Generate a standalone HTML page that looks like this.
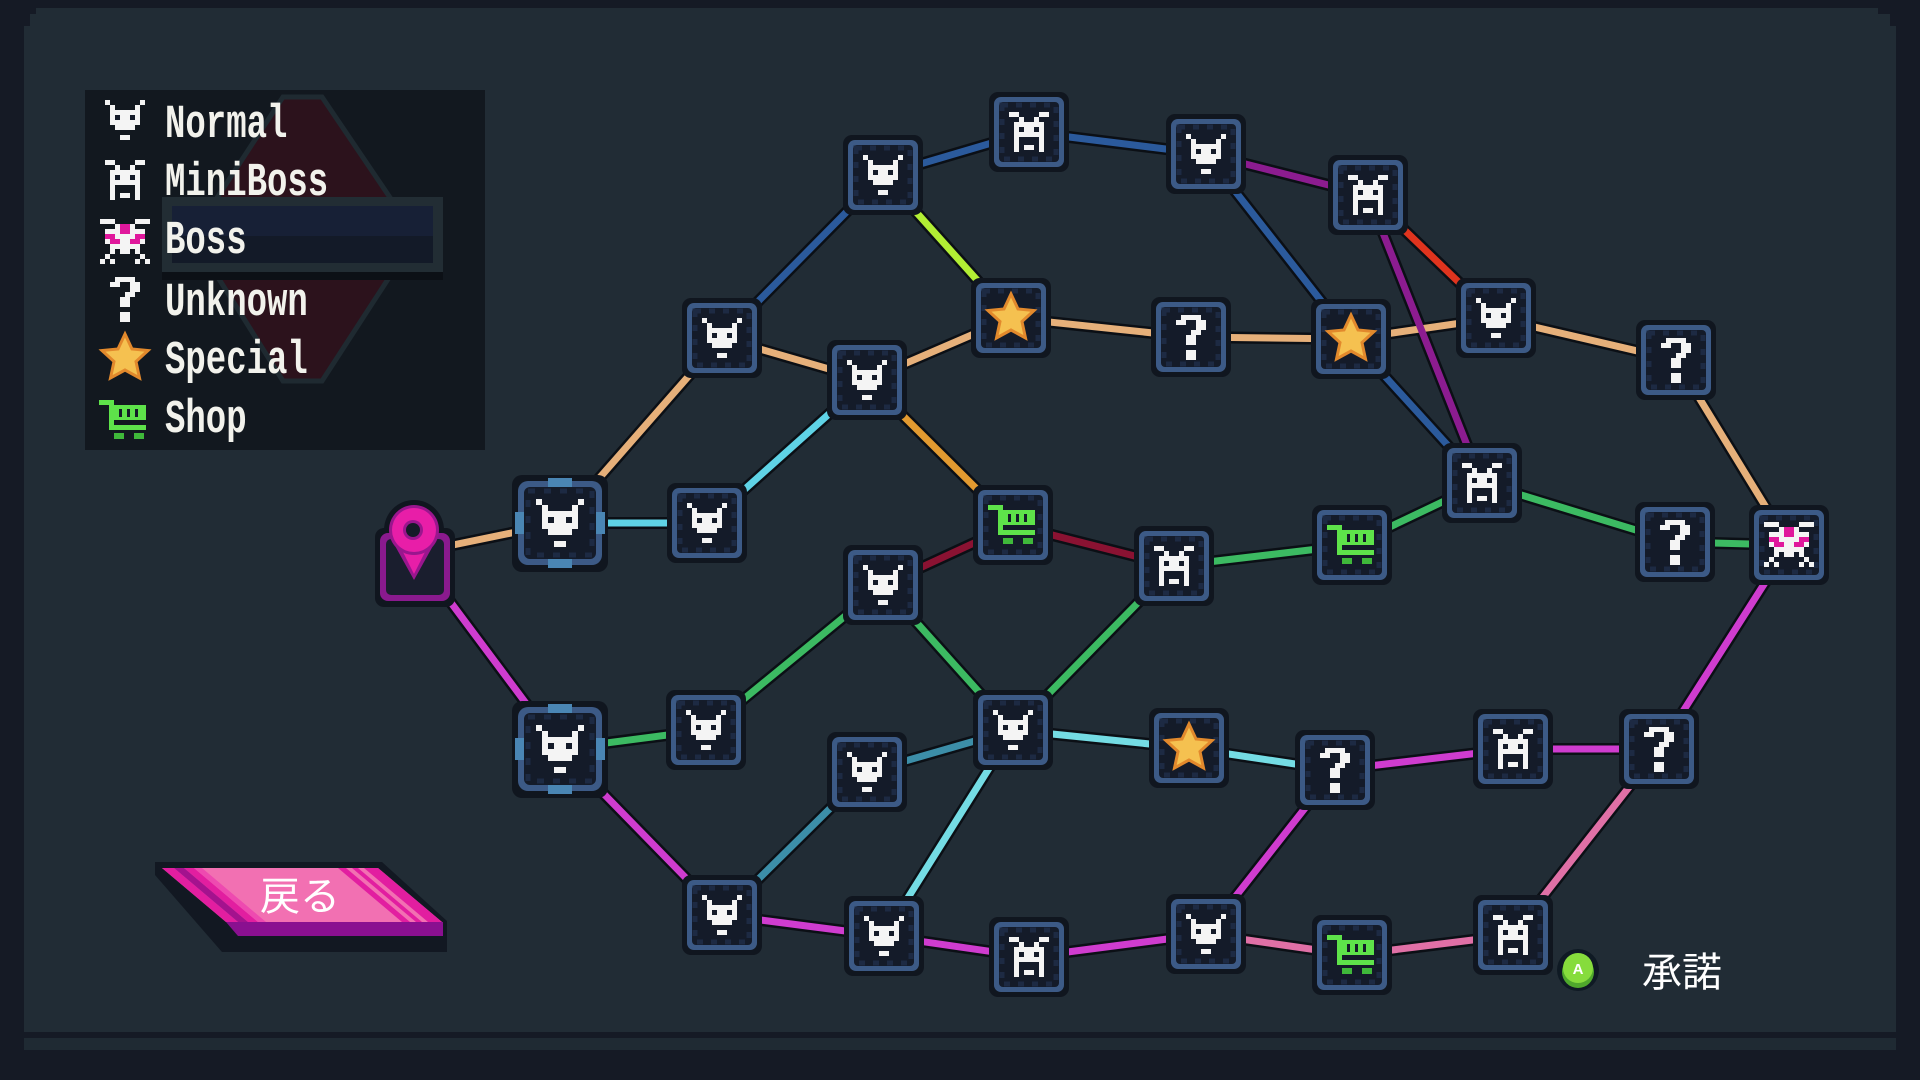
<!DOCTYPE html>
<html><head><meta charset="utf-8">
<style>
html,body{margin:0;padding:0;background:#151a25;width:1920px;height:1080px;overflow:hidden}
svg{display:block}
.lg{font-family:"Liberation Mono",monospace;font-weight:bold;font-size:34px;fill:#f2f2ec}
.jp{font-family:"Liberation Sans","Noto Sans CJK JP",sans-serif;fill:#ffffff}
</style></head>
<body>
<svg width="1920" height="1080" viewBox="0 0 1920 1080" xmlns="http://www.w3.org/2000/svg">
<defs>
 <g id="fr">
  <rect x="-40" y="-40" width="80" height="80" rx="9" fill="#10161f"/>
  <rect x="-35" y="-35" width="70" height="70" rx="7" fill="#3c5a86"/>
  <rect x="-30" y="-30" width="60" height="60" rx="4" fill="#141b29"/>
  <rect x="-27" y="-27" width="54" height="54" fill="none" stroke="#1d2a43" stroke-width="5" stroke-dasharray="6 8"/>
 </g>
 <g id="bfr">
  <rect x="-48" y="-48" width="96" height="97" rx="10" fill="#10161f"/>
  <rect x="-42" y="-42" width="84" height="84" rx="10" fill="#3c5a86"/>
  <rect x="-36" y="-36" width="72" height="72" rx="6" fill="#141b29"/>
  <rect x="-32" y="-32" width="64" height="64" fill="none" stroke="#1d2a43" stroke-width="5" stroke-dasharray="7 9"/>
  <path d="M-12 -45h24v9h-24z M-12 36h24v9h-24z M-45 -11h9v22h-9z M36 -11h9v22h-9z" fill="#4a86b4"/>
 </g>
 <g id="icn">
  <path fill="#f4f4f4" d="M-20 -20h5v5h-5z M15 -20h5v5h-5z M-15 -15h5v5h-5z M10 -15h5v5h-5z M-15 -10h30v15h-30z M-10 5h20v5h-20z M-5 15h10v5h-10z"/>
  <path fill="#141b29" d="M-10 -5h5v5h-5z M5 -5h5v5h-5z"/>
 </g>
 <g id="icm">
  <path fill="#f4f4f4" d="M-20 -20h10v5h-10z M10 -20h10v5h-10z M-10 -15h5v5h-5z M5 -15h5v5h-5z M-15 -10h30v15h-30z M-15 5h5v15h-5z M10 5h5v15h-5z M-5 13h10v5h-10z"/>
  <path fill="#141b29" d="M-10 -5h5v5h-5z M5 -5h5v5h-5z"/>
 </g>
 <g id="icb">
  <path fill="#f4f4f4" d="M-25 -23h15v5h-15z M10 -23h15v5h-15z M-10 -18h5v5h-5z M5 -18h5v5h-5z M-20 -13h40v5h-40z M-10 -8h20v5h-20z M-20 -3h5v5h-5z M-5 -3h10v5h-10z M15 -3h5v5h-5z M-15 2h30v5h-30z M-15 7h5v5h-5z M-5 7h10v5h-10z M10 7h5v5h-5z M-20 12h5v5h-5z M15 12h5v5h-5z M-25 17h5v5h-5z M-15 17h5v5h-5z M10 17h5v5h-5z M20 17h5v5h-5z"/>
  <path fill="#e0189c" d="M-5 -18h10v10h-10z M-20 -8h10v5h-10z M10 -8h10v5h-10z M-15 -3h10v5h-10z M5 -3h10v5h-10z"/>
 </g>
 <path id="icu" fill="#f4f4f4" d="M-10 -22h20v5h-20z M-15 -17h10v5h-10z M5 -17h10v10h-10z M0 -7h10v5h-10z M-5 -2h10v10h-10z M-5 13h10v10h-10z"/>
 <polygon id="ics" points="0,-24 7,-9 23,-7.5 11,3.5 14.5,20 0,12 -14.5,20 -11,3.5 -23,-7.5 -7,-9" fill="#f5c150" stroke="#e2892c" stroke-width="3"/>
 <g id="ich">
  <path fill="#5ee24a" d="M-25 -20h15v5h-15z M-15 -15h5v25h-5z M-10 -15h32v15h-32z M-15 5h37v5h-37z"/>
  <path fill="#141b29" d="M-5 -11h3v8h-3z M3 -11h3v8h-3z M11 -11h3v8h-3z"/>
  <path fill="#3fb83a" d="M-10 13h10v6h-10z M10 13h10v6h-10z"/>
 </g>
</defs>

<polygon points="36,8 1878,8 1878,14 1890,14 1890,26 1896,26 1896,1032 24,1032 24,26 30,26 30,14 36,14" fill="#212c35"/>
<rect x="24" y="1038" width="1872" height="12" fill="#1f2a33"/>

<rect x="85" y="90" width="400" height="360" fill="#12181f"/>
<polygon points="283,97 322,97 416,236 322,381 283,381 192,236" fill="#2c121c" stroke="#1f2a31" stroke-width="5"/>
<rect x="162" y="272" width="281" height="8" fill="#0c1016"/>
<rect x="162" y="197" width="281" height="75" fill="#222d34"/>
<rect x="172" y="206" width="261" height="57" fill="#131a28"/>
<rect x="172" y="206" width="261" height="30" fill="#172036"/>

<use href="#icn" x="125" y="120"/>
<use href="#icm" x="125" y="180"/>
<use href="#icb" x="125" y="242"/>
<use href="#icu" x="125" y="299"/>
<use href="#ics" x="125" y="358"/>
<use href="#ich" x="124" y="420"/>
<text class="lg" transform="translate(165,137) scale(1,1.4)">Normal</text>
<text class="lg" transform="translate(165,195) scale(1,1.4)">MiniBoss</text>
<text class="lg" transform="translate(165,253) scale(1,1.4)">Boss</text>
<text class="lg" transform="translate(165,315) scale(1,1.4)">Unknown</text>
<text class="lg" transform="translate(165,373) scale(1,1.4)">Special</text>
<text class="lg" transform="translate(165,432) scale(1,1.4)">Shop</text>

<path fill="none" stroke="#0b0f15" stroke-width="12" d="M414 553L560 523M560 523L722 338M722 338L867 380M867 380L1011 318M1011 318L1191 337M1191 337L1351 339M1351 339L1496 318M1496 318L1676 360M1676 360L1789 545M414 553L560 749M1789 545L1659 749M560 749L722 915M722 915L884 936M1335 770L1513 749M1513 749L1659 749M1335 770L1206 934M884 936L1029 957M1029 957L1206 934M560 523L707 523M707 523L867 380M722 338L883 175M883 175L1029 132M1029 132L1206 154M1206 154L1351 339M1351 339L1482 483M883 175L1011 318M867 380L1013 525M1206 154L1368 195M1368 195L1482 483M1368 195L1496 318M1013 525L883 585M1013 525L1174 566M1174 566L1352 545M1352 545L1482 483M1482 483L1675 542M1675 542L1789 545M560 749L706 730M706 730L883 585M883 585L1013 730M1013 730L1174 566M722 915L867 772M867 772L1013 730M884 936L1013 730M1013 730L1189 748M1189 748L1335 770M1206 934L1352 955M1352 955L1513 935M1513 935L1659 749"/>
<g fill="none" stroke-width="7">
<path stroke="#e6b07a" d="M414 553L560 523M560 523L722 338M722 338L867 380M867 380L1011 318M1011 318L1191 337M1191 337L1351 339M1351 339L1496 318M1496 318L1676 360M1676 360L1789 545"/>
<path stroke="#cf3ccf" d="M414 553L560 749M1789 545L1659 749M560 749L722 915M722 915L884 936M1335 770L1513 749M1513 749L1659 749M1335 770L1206 934M884 936L1029 957M1029 957L1206 934"/>
<path stroke="#5fd3e6" d="M560 523L707 523M707 523L867 380"/>
<path stroke="#2b5a9c" d="M722 338L883 175M883 175L1029 132M1029 132L1206 154M1206 154L1351 339M1351 339L1482 483"/>
<path stroke="#b2ee34" d="M883 175L1011 318"/>
<path stroke="#e29a30" d="M867 380L1013 525"/>
<path stroke="#8c1c90" d="M1206 154L1368 195M1368 195L1482 483"/>
<path stroke="#e0341e" d="M1368 195L1496 318"/>
<path stroke="#8a1232" d="M1013 525L883 585M1013 525L1174 566"/>
<path stroke="#3cba62" d="M1174 566L1352 545M1352 545L1482 483M1482 483L1675 542M1675 542L1789 545M560 749L706 730M706 730L883 585M883 585L1013 730M1013 730L1174 566"/>
<path stroke="#3c8ea8" d="M722 915L867 772M867 772L1013 730"/>
<path stroke="#74dce4" d="M884 936L1013 730M1013 730L1189 748M1189 748L1335 770"/>
<path stroke="#e070a6" d="M1206 934L1352 955M1352 955L1513 935M1513 935L1659 749"/>
</g>

<use href="#fr" x="883" y="175"/><use href="#icn" x="883" y="175"/>
<use href="#fr" x="1029" y="132"/><use href="#icm" x="1029" y="132"/>
<use href="#fr" x="1206" y="154"/><use href="#icn" x="1206" y="154"/>
<use href="#fr" x="1368" y="195"/><use href="#icm" x="1368" y="195"/>
<use href="#fr" x="722" y="338"/><use href="#icn" x="722" y="338"/>
<use href="#fr" x="867" y="380"/><use href="#icn" x="867" y="380"/>
<use href="#fr" x="1011" y="318"/><use href="#ics" x="1011" y="318"/>
<use href="#fr" x="1191" y="337"/><use href="#icu" x="1191" y="337"/>
<use href="#fr" x="1351" y="339"/><use href="#ics" x="1351" y="339"/>
<use href="#fr" x="1496" y="318"/><use href="#icn" x="1496" y="318"/>
<use href="#fr" x="1676" y="360"/><use href="#icu" x="1676" y="360"/>
<use href="#fr" x="707" y="523"/><use href="#icn" x="707" y="523"/>
<use href="#fr" x="1013" y="525"/><use href="#ich" x="1013" y="525"/>
<use href="#fr" x="1482" y="483"/><use href="#icm" x="1482" y="483"/>
<use href="#fr" x="883" y="585"/><use href="#icn" x="883" y="585"/>
<use href="#fr" x="1174" y="566"/><use href="#icm" x="1174" y="566"/>
<use href="#fr" x="1352" y="545"/><use href="#ich" x="1352" y="545"/>
<use href="#fr" x="1675" y="542"/><use href="#icu" x="1675" y="542"/>
<use href="#fr" x="1789" y="545"/><use href="#icb" x="1789" y="545"/>
<use href="#fr" x="706" y="730"/><use href="#icn" x="706" y="730"/>
<use href="#fr" x="1013" y="730"/><use href="#icn" x="1013" y="730"/>
<use href="#fr" x="867" y="772"/><use href="#icn" x="867" y="772"/>
<use href="#fr" x="1189" y="748"/><use href="#ics" x="1189" y="748"/>
<use href="#fr" x="1335" y="770"/><use href="#icu" x="1335" y="770"/>
<use href="#fr" x="1513" y="749"/><use href="#icm" x="1513" y="749"/>
<use href="#fr" x="1659" y="749"/><use href="#icu" x="1659" y="749"/>
<use href="#fr" x="722" y="915"/><use href="#icn" x="722" y="915"/>
<use href="#fr" x="884" y="936"/><use href="#icn" x="884" y="936"/>
<use href="#fr" x="1029" y="957"/><use href="#icm" x="1029" y="957"/>
<use href="#fr" x="1206" y="934"/><use href="#icn" x="1206" y="934"/>
<use href="#fr" x="1352" y="955"/><use href="#ich" x="1352" y="955"/>
<use href="#fr" x="1513" y="935"/><use href="#icm" x="1513" y="935"/>

<use href="#bfr" x="560" y="523"/>
<use href="#icn" transform="translate(560,523) scale(1.2)"/>
<use href="#bfr" x="560" y="749"/>
<use href="#icn" transform="translate(560,749) scale(1.2)"/>

<rect x="375" y="528" width="80" height="79" rx="9" fill="#10161f"/>
<circle cx="414" cy="530" r="30" fill="#10161f"/>
<rect x="380" y="533" width="70" height="68" rx="8" fill="#8a1a8e"/>
<rect x="386" y="539" width="58" height="56" rx="5" fill="#1a1e2e"/>
<polygon points="394,544 434,544 414,580" fill="#9a168e"/>
<polygon points="398,542 430,542 414,574" fill="#e81ea8"/>
<circle cx="414" cy="530" r="25" fill="#9a168e"/>
<circle cx="414" cy="530" r="22" fill="#e81ea8"/>
<circle cx="413" cy="530" r="10" fill="#9a168e"/>
<circle cx="413" cy="530" r="7" fill="#151b28"/>

<polygon points="155,862 382,862 447,921 447,952 222,952 155,875" fill="#121822"/>
<polygon points="226,922 443,922 443,936 238,936" fill="#8a1090"/>
<polygon points="162,868 378,868 442,922 226,922" fill="#f270b2"/>
<path fill="#e21ea0" d="M162 868H174L238 922H226Z M184 868H194L258 922H248Z M338 868H346L410 922H402Z M352 868H358L422 922H416Z M364 868H378L442 922H428Z"/>
<path fill="#a4128e" d="M174 868H184L248 922H238Z"/>
<path fill="#ee4ab0" d="M194 868H202L266 922H258Z"/>
<text class="jp" x="300" y="910" font-size="40" text-anchor="middle">戻る</text>

<circle cx="1578" cy="970" r="21" fill="#0f1a24"/>
<circle cx="1578" cy="972" r="16" fill="#4fa82c"/>
<circle cx="1578" cy="968" r="15" fill="#86dc3c"/>
<text x="1578" y="974" font-family="Liberation Sans, sans-serif" font-weight="bold" font-size="15" fill="#ffffff" text-anchor="middle">A</text>
<text class="jp" x="1682" y="986" font-size="40" text-anchor="middle">承諾</text>
</svg>
</body></html>
